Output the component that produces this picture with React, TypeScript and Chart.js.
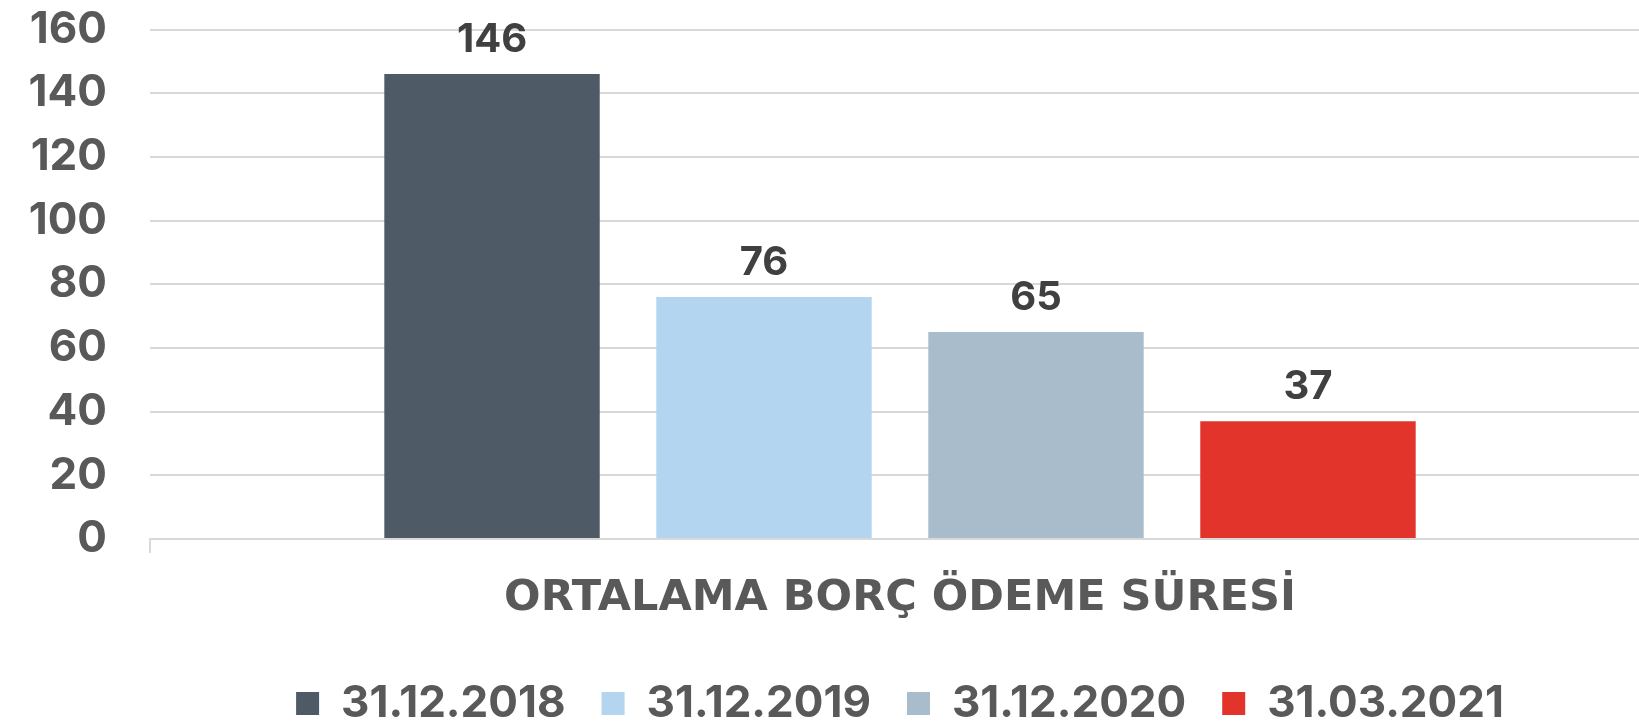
import React, { useEffect, useRef } from "react";
import { Chart, registerables } from "chart.js";

Chart.register(...registerables);

const categories = ["ORTALAMA BORÇ ÖDEME SÜRESİ"];
const seriesLabels = ["31.12.2018", "31.12.2019", "31.12.2020", "31.03.2021"];
const series2018 = [146];
const series2019 = [76];
const series2020 = [65];
const series2021 = [37];
const seriesColors = ["#4E5B66", "#B3D5F0", "#A9BCCB", "#E3342B"];
const yTicks = [0, 20, 40, 60, 80, 100, 120, 140, 160];

const FONT = "Inter, 'Noto Sans', sans-serif";
const TITLE_FONT = "'DejaVu Sans', Inter, sans-serif";

const valueLabels = {
  id: "valueLabels",
  afterDatasetsDraw(chart: any) {
    const ctx = chart.ctx;
    ctx.save();
    ctx.font = `700 40px ${FONT}`;
    ctx.fillStyle = "#404040";
    ctx.textAlign = "center";
    ctx.textBaseline = "alphabetic";
    chart.data.datasets.forEach((ds: any, di: number) => {
      const meta = chart.getDatasetMeta(di);
      meta.data.forEach((el: any, i: number) => {
        ctx.fillText(String(ds.data[i]), el.x, el.y - 22);
      });
    });
    ctx.restore();
  },
};

export default function App() {
  const ref = useRef<HTMLCanvasElement | null>(null);
  useEffect(() => {
    if (!ref.current) return;
    const allSeries = [series2018, series2019, series2020, series2021];
    const chart = new Chart(ref.current, {
      type: "bar",
      data: {
        labels: categories,
        datasets: allSeries.map((d, i) => ({
          label: seriesLabels[i],
          data: d,
          backgroundColor: seriesColors[i],
          borderWidth: 0,
          categoryPercentage: 0.7253,
          barPercentage: 0.792,
        })),
      },
      options: {
        responsive: false,
        animation: false,
        devicePixelRatio: 1,
        layout: { padding: { top: 29.5, left: 0, right: 0, bottom: 0 } },
        plugins: {
          tooltip: { enabled: false },
          legend: {
            position: "bottom",
            fullSize: false,
            maxHeight: 82.5,
            labels: {
              boxWidth: 23,
              boxHeight: 23,
              padding: 36,
              color: "#595959",
              font: { family: FONT, size: 44, weight: "700" },
            },
          },
        },
        scales: {
          x: {
            grid: {
              offset: true,
              drawOnChartArea: false,
              drawTicks: true,
              tickLength: 14,
              color: "#D9D9D9",
              lineWidth: 2,
            },
            border: { display: true, color: "#D9D9D9", width: 2 },
            ticks: {
              color: "#595959",
              font: { family: TITLE_FONT, size: 43, weight: "700" },
              padding: 20,
              maxRotation: 0,
              autoSkip: false,
            },
            afterFit: (scale: any) => {
              scale.height = 106.5;
            },
          },
          y: {
            min: 0,
            max: 160,
            afterBuildTicks: (scale: any) => {
              scale.ticks = yTicks.map((v) => ({ value: v }));
            },
            grid: {
              color: "#D9D9D9",
              lineWidth: 2,
              drawTicks: true,
              tickLength: 43,
              tickColor: "rgba(0,0,0,0)",
            },
            border: { display: false },
            ticks: {
              color: "#595959",
              font: { family: FONT, size: 44, weight: "700" },
              padding: 0,
            },
            afterFit: (scale: any) => {
              scale.width = 150;
            },
          },
        },
      },
      plugins: [valueLabels],
    });
    return () => chart.destroy();
  }, []);

  return (
    <div
      style={{
        position: "absolute",
        left: 0,
        top: 0,
        width: 1639,
        height: 728,
        overflow: "hidden",
        background: "#fff",
      }}
    >
      <canvas ref={ref} width={1650} height={728} style={{ width: 1650, height: 728, display: "block" }} />
    </div>
  );
}
